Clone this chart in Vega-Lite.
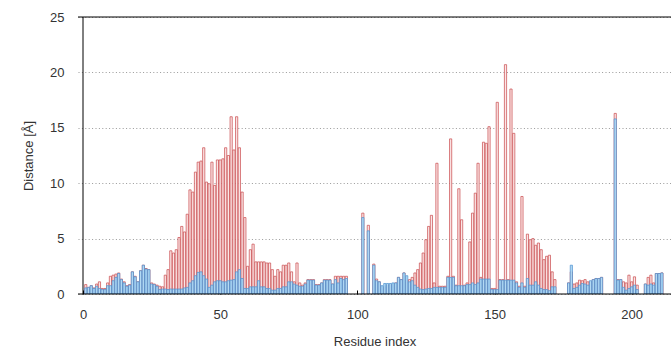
{
  "$schema": "https://vega.github.io/schema/vega-lite/v6.json",
  "width": 593,
  "height": 277,
  "autosize": {"type": "none"},
  "padding": {"left": 78, "top": 17, "right": 0, "bottom": 53},
  "background": "white",
  "config": {
    "view": {"stroke": null},
    "font": "Liberation Sans",
    "axis": {
      "labelFont": "Liberation Sans",
      "titleFont": "Liberation Sans",
      "labelFontSize": 13,
      "titleFontSize": 13,
      "titleFontWeight": "normal",
      "labelColor": "#333333",
      "titleColor": "#333333",
      "domain": false
    }
  },
  "data": {"values": [
    {"i":1,"r":0.85,"b":0.55},{"i":2,"r":0.6,"b":0.6},{"i":3,"r":0.75,"b":0.75},{"i":4,"r":0.55,"b":0.5},{"i":5,"r":0.9,"b":0.7},
    {"i":6,"r":1.1,"b":0.5},{"i":7,"r":0.5,"b":0.4},{"i":8,"r":0.5,"b":0.4},{"i":9,"r":1.0,"b":0.75},{"i":10,"r":1.6,"b":0.75},
    {"i":11,"r":1.7,"b":1.2},{"i":12,"r":1.8,"b":1.5},{"i":13,"r":1.9,"b":1.85},{"i":14,"r":1.35,"b":1.3},{"i":15,"r":1.1,"b":1.0},
    {"i":16,"r":0.75,"b":0.7},{"i":17,"r":0.85,"b":0.8},{"i":18,"r":2.0,"b":2.0},{"i":19,"r":1.6,"b":1.55},{"i":20,"r":1.1,"b":1.1},
    {"i":21,"r":2.1,"b":2.1},{"i":22,"r":2.6,"b":2.6},{"i":23,"r":2.3,"b":2.25},{"i":24,"r":2.2,"b":2.2},{"i":25,"r":1.0,"b":0.9},
    {"i":26,"r":0.9,"b":0.85},{"i":27,"r":0.8,"b":0.7},{"i":28,"r":0.7,"b":0.4},{"i":29,"r":0.65,"b":0.45},{"i":30,"r":1.7,"b":0.45},
    {"i":31,"r":2.2,"b":0.4},{"i":32,"r":3.9,"b":0.45},{"i":33,"r":3.7,"b":0.45},{"i":34,"r":4.0,"b":0.45},{"i":35,"r":5.1,"b":0.45},
    {"i":36,"r":6.1,"b":0.45},{"i":37,"r":5.6,"b":0.55},{"i":38,"r":7.2,"b":0.6},{"i":39,"r":9.4,"b":1.0},{"i":40,"r":9.2,"b":1.2},
    {"i":41,"r":11.0,"b":1.65},{"i":42,"r":11.9,"b":1.95},{"i":43,"r":12.0,"b":2.0},{"i":44,"r":13.2,"b":1.65},{"i":45,"r":10.1,"b":1.35},
    {"i":46,"r":9.95,"b":0.6},{"i":47,"r":11.9,"b":0.8},{"i":48,"r":9.8,"b":1.1},{"i":49,"r":12.1,"b":1.2},{"i":50,"r":12.1,"b":1.2},
    {"i":51,"r":12.2,"b":1.1},{"i":52,"r":13.2,"b":1.1},{"i":53,"r":12.5,"b":1.2},{"i":54,"r":16.0,"b":1.25},{"i":55,"r":13.0,"b":1.3},
    {"i":56,"r":16.0,"b":2.0},{"i":57,"r":13.2,"b":2.2},{"i":58,"r":9.2,"b":1.4},{"i":59,"r":6.9,"b":0.5},{"i":60,"r":2.5,"b":0.5},
    {"i":61,"r":4.0,"b":0.65},{"i":62,"r":4.5,"b":0.65},{"i":63,"r":2.9,"b":0.65},{"i":64,"r":2.9,"b":1.2},{"i":65,"r":2.9,"b":0.65},
    {"i":66,"r":2.9,"b":0.65},{"i":67,"r":2.8,"b":0.5},{"i":68,"r":2.8,"b":0.5},{"i":69,"r":2.2,"b":0.35},{"i":70,"r":1.6,"b":0.35},
    {"i":71,"r":2.2,"b":0.5},{"i":72,"r":2.0,"b":0.5},{"i":73,"r":2.6,"b":0.65},{"i":74,"r":2.6,"b":0.65},{"i":75,"r":2.8,"b":1.1},
    {"i":76,"r":2.0,"b":1.1},{"i":77,"r":1.1,"b":0.9},{"i":78,"r":2.8,"b":0.8},{"i":79,"r":1.0,"b":0.7},{"i":80,"r":0.8,"b":0.7},
    {"i":81,"r":1.0,"b":0.9},{"i":82,"r":1.3,"b":1.25},{"i":83,"r":1.3,"b":1.25},{"i":84,"r":1.3,"b":1.25},{"i":85,"r":0.85,"b":0.8},
    {"i":86,"r":0.85,"b":0.8},{"i":87,"r":1.0,"b":1.0},{"i":88,"r":1.3,"b":1.25},{"i":89,"r":1.3,"b":1.25},{"i":90,"r":1.3,"b":1.25},
    {"i":91,"r":0.9,"b":0.9},{"i":92,"r":1.6,"b":1.3},{"i":93,"r":1.6,"b":1.0},{"i":94,"r":1.6,"b":1.4},{"i":95,"r":1.6,"b":1.3},
    {"i":96,"r":1.6,"b":1.4},
    {"i":102,"r":7.3,"b":6.9},{"i":104,"r":6.2,"b":5.7},{"i":106,"r":2.7,"b":2.6},{"i":107,"r":1.35,"b":1.2},{"i":108,"r":1.1,"b":1.1},
    {"i":109,"r":0.5,"b":0.75},{"i":110,"r":0.65,"b":0.95},{"i":111,"r":0.8,"b":0.95},{"i":112,"r":0.85,"b":0.95},{"i":113,"r":0.85,"b":1.0},
    {"i":114,"r":1.0,"b":1.0},{"i":115,"r":1.5,"b":1.5},{"i":116,"r":1.3,"b":1.3},{"i":117,"r":1.9,"b":1.9},{"i":118,"r":1.25,"b":1.65},
    {"i":119,"r":1.3,"b":1.1},{"i":120,"r":1.5,"b":1.2},{"i":121,"r":1.9,"b":0.8},{"i":122,"r":2.2,"b":0.6},{"i":123,"r":2.8,"b":0.45},
    {"i":124,"r":3.7,"b":0.4},{"i":125,"r":4.9,"b":0.45},{"i":126,"r":6.1,"b":0.5},{"i":127,"r":7.1,"b":0.5},{"i":128,"r":1.0,"b":0.6},
    {"i":129,"r":11.8,"b":0.6},{"i":130,"r":0.7,"b":0.6},{"i":131,"r":0.7,"b":0.6},{"i":132,"r":0.7,"b":0.6},{"i":133,"r":1.6,"b":1.5},
    {"i":134,"r":14.0,"b":1.5},{"i":135,"r":1.6,"b":1.5},{"i":136,"r":0.8,"b":0.75},{"i":137,"r":9.5,"b":0.75},{"i":138,"r":6.7,"b":0.75},
    {"i":139,"r":0.8,"b":0.75},{"i":140,"r":1.0,"b":0.85},{"i":141,"r":4.7,"b":0.85},{"i":142,"r":7.3,"b":1.0},{"i":143,"r":9.1,"b":0.85},
    {"i":144,"r":11.8,"b":1.0},{"i":145,"r":1.5,"b":1.35},{"i":146,"r":13.7,"b":1.35},{"i":147,"r":13.6,"b":1.35},{"i":148,"r":15.1,"b":1.35},
    {"i":149,"r":0.5,"b":0.4},{"i":150,"r":0.5,"b":0.4},{"i":151,"r":17.3,"b":0.4},{"i":152,"r":1.3,"b":1.25},{"i":153,"r":1.3,"b":1.25},
    {"i":154,"r":20.7,"b":1.25},{"i":155,"r":1.3,"b":1.25},{"i":156,"r":18.5,"b":1.25},{"i":157,"r":14.5,"b":1.25},{"i":158,"r":1.1,"b":1.0},
    {"i":159,"r":0.7,"b":0.6},{"i":160,"r":8.8,"b":1.0},{"i":161,"r":0.7,"b":0.6},{"i":162,"r":5.4,"b":1.4},{"i":163,"r":4.9,"b":0.8},
    {"i":164,"r":5.0,"b":0.8},{"i":165,"r":4.4,"b":1.1},{"i":166,"r":4.6,"b":0.8},{"i":167,"r":4.0,"b":0.5},{"i":168,"r":3.1,"b":0.4},
    {"i":169,"r":3.4,"b":0.4},{"i":170,"r":3.5,"b":0.3},{"i":171,"r":2.0,"b":0.65},{"i":172,"r":1.3,"b":0.65},
    {"i":177,"r":1.0,"b":1.0},{"i":178,"r":2.0,"b":2.6},{"i":179,"r":0.9,"b":0.5},{"i":180,"r":1.0,"b":0.6},{"i":181,"r":1.25,"b":0.8},
    {"i":182,"r":1.2,"b":0.95},{"i":183,"r":1.3,"b":0.9},{"i":184,"r":1.1,"b":0.8},{"i":185,"r":1.1,"b":1.2},{"i":186,"r":1.3,"b":1.3},
    {"i":187,"r":1.4,"b":1.4},{"i":188,"r":1.4,"b":1.4},{"i":189,"r":1.5,"b":1.5},
    {"i":194,"r":16.3,"b":15.8},{"i":195,"r":1.3,"b":1.25},{"i":196,"r":1.3,"b":1.3},{"i":197,"r":1.1,"b":0.6},{"i":198,"r":1.0,"b":0.35},
    {"i":199,"r":1.7,"b":0.5},{"i":200,"r":1.1,"b":0.65},{"i":201,"r":1.55,"b":0.8},{"i":202,"r":0.8,"b":0.4},
    {"i":205,"r":0.9,"b":0.9},{"i":206,"r":1.5,"b":0.8},{"i":207,"r":1.7,"b":0.9},{"i":208,"r":1.0,"b":0.8},{"i":209,"r":1.85,"b":1.85},
    {"i":210,"r":1.85,"b":1.85},{"i":211,"r":1.9,"b":1.9}
  ]},
  "encoding": {
    "x": {"field": "i", "type": "quantitative",
          "scale": {"domain": [0, 212.5], "nice": false, "zero": false},
          "axis": {"orient": "bottom", "title": "Residue index", "values": [0, 50, 100, 150, 200],
                   "grid": false, "tickSize": -4, "tickColor": "#000000", "labelPadding": 18,
                   "labelFlush": false, "titlePadding": 14}}
  },
  "layer": [
    {
      "mark": {"type": "bar", "width": 2.2, "fill": "#fbe6e6", "stroke": "#c9484a", "strokeWidth": 0.7, "clip": true},
      "encoding": {
        "y": {"field": "r", "type": "quantitative",
              "scale": {"domain": [0, 25], "nice": false},
              "axis": {"title": "Distance [Å]", "values": [0, 5, 10, 15, 20, 25], "ticks": false,
                       "labelPadding": 14, "titlePadding": 14, "grid": true, "gridColor": "#999999",
                       "gridDash": [1, 2.4], "gridWidth": 1, "labelFlush": false}}
      }
    },
    {
      "mark": {"type": "bar", "width": 2.2, "fill": "#b3daf4", "stroke": "#4a8fd0", "strokeWidth": 0.7, "clip": true},
      "encoding": {
        "y": {"field": "b", "type": "quantitative",
              "scale": {"domain": [0, 25], "nice": false},
              "axis": {"title": "Distance [Å]", "values": [0, 5, 10, 15, 20, 25], "ticks": false,
                       "labelPadding": 14, "titlePadding": 14, "grid": true, "gridColor": "#999999",
                       "gridDash": [1, 2.4], "gridWidth": 1, "labelFlush": false}}
      }
    },
    {
      "data": {"values": [{"edge": 25}, {"edge": 0}]},
      "mark": {"type": "rule", "color": "#000000", "strokeWidth": 1},
      "encoding": {
        "x": null,
        "y": {"field": "edge", "type": "quantitative"}
      }
    },
    {
      "data": {"values": [{"left": 0}]},
      "mark": {"type": "rule", "color": "#000000", "strokeWidth": 1},
      "encoding": {
        "x": {"field": "left", "type": "quantitative"}
      }
    }
  ]
}
